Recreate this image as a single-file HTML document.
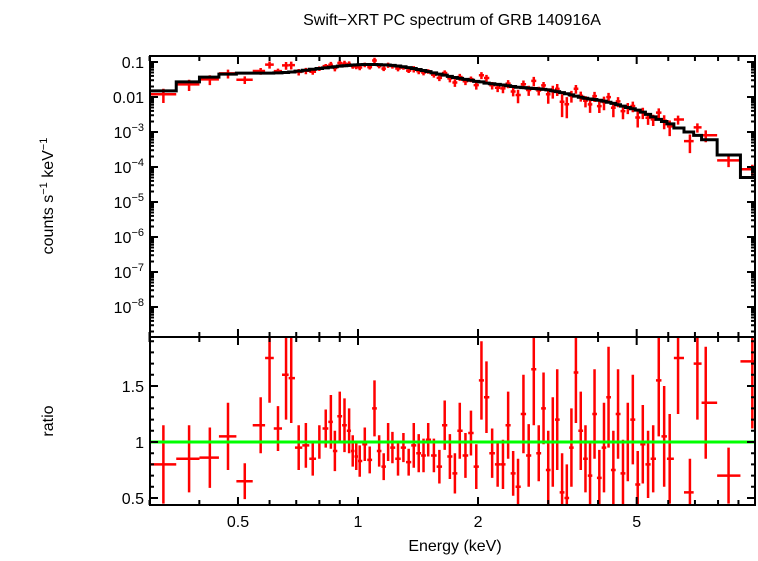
<!DOCTYPE html>
<html><head><meta charset="utf-8"><style>
body{margin:0;background:#fff;}
svg text{font-family:"Liberation Sans",sans-serif;fill:#000;}
</style></head><body>
<svg id="chart" width="758" height="556" xmlns="http://www.w3.org/2000/svg">
<text x="452" y="25" font-size="16" text-anchor="middle">Swift−XRT PC spectrum of GRB 140916A</text>
<text transform="translate(53,196) rotate(-90)" font-size="16" text-anchor="middle">counts s<tspan dy="-6" font-size="11">−1</tspan><tspan dy="6"> keV</tspan><tspan dy="-6" font-size="11">−1</tspan></text>
<text transform="translate(53,421) rotate(-90)" font-size="16" text-anchor="middle">ratio</text>
<text x="455" y="551" font-size="16" text-anchor="middle">Energy (keV)</text>
<defs>
<clipPath id="cTop"><rect x="150" y="56" width="605" height="281"/></clipPath>
<clipPath id="cBot"><rect x="150" y="337" width="605" height="168"/></clipPath>
</defs>
<g id="top" clip-path="url(#cTop)"></g>
<g id="bot" clip-path="url(#cBot)"></g>
<g id="axes"></g>
</svg>
<script>
const energies=[0.325,0.377,0.425,0.472,0.52,0.57,0.60,0.63,0.66,0.68,0.71,0.74,0.77,0.80,0.83,0.855,0.875,0.90,0.925,0.95,0.97,0.99,1.01,1.04,1.07,1.10,1.13,1.16,1.19,1.22,1.26,1.30,1.34,1.38,1.42,1.46,1.50,1.55,1.60,1.65,1.70,1.75,1.80,1.86,1.92,1.98,2.04,2.10,2.17,2.24,2.31,2.38,2.45,2.52,2.60,2.68,2.76,2.84,2.92,3.00,3.08,3.16,3.25,3.34,3.43,3.52,3.62,3.72,3.82,3.92,4.03,4.14,4.25,4.37,4.49,4.62,4.75,4.89,5.03,5.18,5.34,5.50,5.68,5.86,6.05,6.35,6.8,7.1,7.45,8.5,9.75];
const modelValues=[0.015,0.027,0.037,0.045,0.048,0.048,0.048,0.049,0.05,0.052,0.055,0.058,0.062,0.065,0.068,0.071,0.073,0.076,0.078,0.08,0.082,0.083,0.084,0.085,0.085,0.085,0.084,0.083,0.082,0.08,0.077,0.073,0.069,0.065,0.061,0.057,0.053,0.049,0.045,0.042,0.039,0.036,0.034,0.032,0.03,0.028,0.027,0.025,0.024,0.023,0.022,0.021,0.02,0.019,0.0185,0.018,0.0175,0.017,0.0165,0.016,0.015,0.0142,0.0133,0.0124,0.0115,0.0106,0.0098,0.0092,0.0088,0.0085,0.0081,0.0076,0.0071,0.0066,0.006,0.0055,0.005,0.0046,0.0042,0.0037,0.0032,0.0027,0.0023,0.002,0.0017,0.0013,0.001,0.0008,0.0006,0.00022,0.00005];
const ratioValues=[0.80,0.85,0.86,1.05,0.65,1.15,1.75,1.12,1.6,1.57,0.95,0.97,0.85,1.0,1.12,1.18,0.92,1.23,1.15,1.1,0.92,0.87,0.83,0.98,0.84,1.3,0.92,0.78,1.0,0.95,0.85,0.95,0.82,0.97,0.9,0.88,1.02,0.88,0.78,1.15,0.87,0.72,1.1,0.88,1.08,0.78,1.55,1.4,0.9,0.8,0.8,1.15,0.72,0.6,1.25,0.88,1.65,0.9,1.3,0.75,1.0,1.2,0.55,0.5,0.95,1.62,1.1,0.85,0.7,1.25,0.68,0.95,1.4,0.75,1.25,0.72,1.0,1.2,0.62,0.98,0.8,0.85,1.55,1.05,0.85,1.75,0.55,1.7,1.35,0.7,1.72];
const ratioErrors=[0.35,0.3,0.27,0.3,0.16,0.25,0.4,0.2,0.4,0.4,0.2,0.2,0.15,0.15,0.17,0.24,0.18,0.22,0.24,0.2,0.14,0.12,0.14,0.15,0.12,0.25,0.14,0.12,0.17,0.14,0.15,0.13,0.12,0.2,0.17,0.15,0.15,0.15,0.15,0.22,0.2,0.18,0.25,0.2,0.2,0.2,0.35,0.32,0.22,0.2,0.22,0.3,0.2,0.25,0.35,0.28,0.5,0.25,0.32,0.35,0.4,0.45,0.35,0.3,0.35,0.45,0.35,0.3,0.3,0.4,0.25,0.4,0.45,0.35,0.4,0.3,0.35,0.4,0.3,0.35,0.3,0.3,0.5,0.45,0.4,0.5,0.3,0.5,0.5,0.25,0.6];
const xTicksMajor=[0.5,1,2,5];
const xTickLabels=["0.5","1","2","5"];
const topTickExps=[-1,-2,-3,-4,-5,-6,-7,-8];
const botTicks=[0.5,1,1.5];
const botTickLabels=["0.5","1","1.5"];

const L=150,R=755,T=56,MID=337,B=505;
const X=e=>358+398.7*Math.log10(e);
const YT=v=>62-35*(Math.log10(v)+1);
const YB=r=>442-112*(r-1);
const NS="http://www.w3.org/2000/svg";
function mk(tag,attrs,parent){const el=document.createElementNS(NS,tag);for(const k in attrs)el.setAttribute(k,attrs[k]);parent.appendChild(el);return el;}
const gT=document.getElementById('top'),gB=document.getElementById('bot'),gA=document.getElementById('axes');
// bin edges
const edges=[0.3];
for(let i=0;i<energies.length-1;i++)edges.push(Math.sqrt(energies[i]*energies[i+1]));
edges.push(10);
// data points
for(let i=0;i<energies.length;i++){
 const x0=X(edges[i]),x1=X(edges[i+1]),xc=X(energies[i]);
 const c=modelValues[i]*ratioValues[i];
 const lo=Math.max(modelValues[i]*(ratioValues[i]-ratioErrors[i]),1e-12),hi=modelValues[i]*(ratioValues[i]+ratioErrors[i]);
 const p=mk('path',{d:`M${x0},${YT(c)}H${x1}M${xc},${YT(lo)}V${YT(hi)}`,stroke:'#ff0000','stroke-width':2.5,fill:'none'},gT);
 
 
 const q=mk('path',{d:`M${x0},${YB(ratioValues[i])}H${x1}M${xc},${YB(ratioValues[i]-ratioErrors[i])}V${YB(ratioValues[i]+ratioErrors[i])}`,stroke:'#ff0000','stroke-width':2.5,fill:'none'},gB);
 
 
}
// model step
let d=`M${X(edges[0])},${YT(modelValues[0])}`;
for(let i=0;i<energies.length;i++){d+=`H${X(edges[i+1])}`;if(i<energies.length-1)d+=`V${YT(modelValues[i+1])}`;}
d+=`V${MID}`;
const m=mk('path',{d:d,stroke:'#000','stroke-width':3,fill:'none'},gT);


const g=mk('line',{x1:L,x2:R,y1:YB(1),y2:YB(1),stroke:'#00ff00','stroke-width':3},gB);


// frames
const f=mk('path',{d:`M${L},${T}H${R}V${B}H${L}ZM${L},${MID}H${R}`,stroke:'#000','stroke-width':2,fill:'none'},gA);


// x ticks
let td='';
for(let dec=0.1;dec<10;dec*=10){for(let k=1;k<10;k++){const e=+(dec*k).toFixed(3);if(e<0.3||e>10)continue;const x=X(e);const maj=xTicksMajor.includes(e);const len=maj?8:5;
 td+=`M${x},${T}v${len}M${x},${MID}v${-len}M${x},${MID}v${len}M${x},${B}v${-len}`;}}
// top y ticks
for(let ex=-9;ex<0;ex++){for(let k=1;k<10;k++){const v=k*Math.pow(10,ex);const y=YT(v);if(y<T||y>MID)continue;const len=k===1?8:4;td+=`M${L},${y}h${len}M${R},${y}h${-len}`;}}
// bottom y ticks
for(let r=5;r<=19;r++){const y=YB(r/10);const len=(r%5===0)?8:4;td+=`M${L},${y}h${len}M${R},${y}h${-len}`;}
const tk=mk('path',{d:td,stroke:'#000','stroke-width':2,fill:'none'},gA);


// labels
xTicksMajor.forEach((e,i)=>{const t=mk('text',{x:X(e),y:527,'font-size':16,'text-anchor':'middle'},gA);t.textContent=xTickLabels[i];
 
 });
topTickExps.forEach(ex=>{const y=YT(Math.pow(10,ex))+6;const t=mk('text',{x:144,y:y,'font-size':16,'text-anchor':'end'},gA);
 if(ex===-1)t.textContent='0.1';else if(ex===-2)t.textContent='0.01';
 else{t.textContent='10';const s=document.createElementNS(NS,'tspan');s.setAttribute('dy','-7');s.setAttribute('font-size','11');s.textContent='−'+(-ex);t.appendChild(s);}
 
 });
botTicks.forEach((r,i)=>{const t=mk('text',{x:144,y:YB(r)+6,'font-size':16,'text-anchor':'end'},gA);t.textContent=botTickLabels[i];
 
 });
</script>
</body></html>
